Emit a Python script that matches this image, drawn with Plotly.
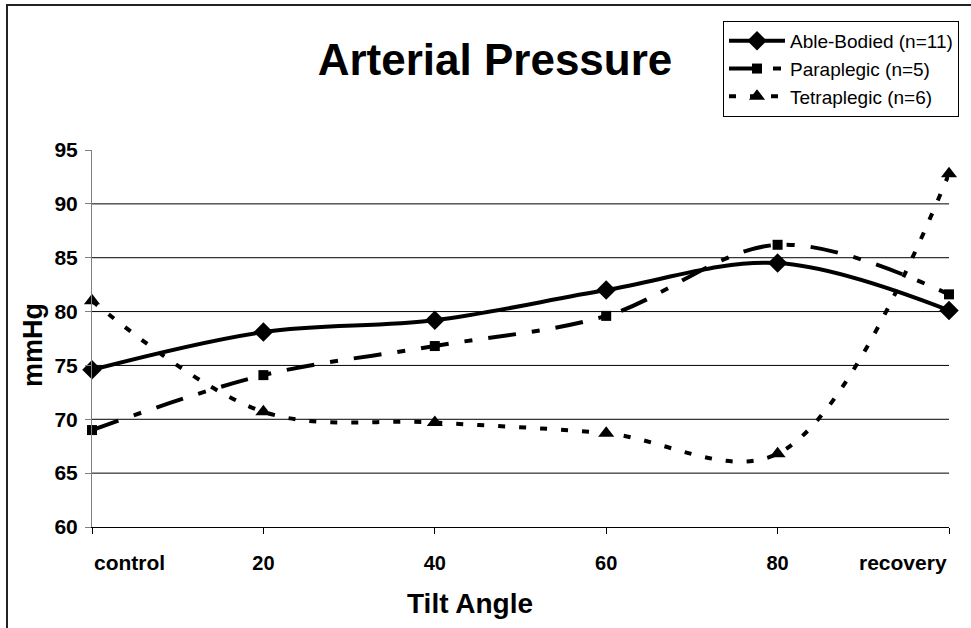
import plotly.graph_objects as go

# Tilt positions and mean arterial pressure (mmHg) for each group
categories = ["control", "20", "40", "60", "80", "recovery"]
able_bodied = [74.6, 78.1, 79.2, 82.0, 84.5, 80.1]
paraplegic = [69.0, 74.1, 76.8, 79.6, 86.2, 81.6]
tetraplegic = [81.0, 70.7, 69.7, 68.7, 66.8, 92.8]

series_names = ["Able-Bodied (n=11)", "Paraplegic (n=5)", "Tetraplegic (n=6)"]
y_ticks = [60, 65, 70, 75, 80, 85, 90, 95]
grid_levels = [65, 70, 75, 80, 85, 90]

FONT = "Liberation Sans, Arial, sans-serif"
W, H = 971, 628
ML, MR, MT, MB = 92, 22, 150, 101
PW, PH = W - ML - MR, H - MT - MB


def px_x(px):
    return (px - ML) / PW


def px_y(py):
    return (H - MB - py) / PH


fig = go.Figure()

fig.add_trace(go.Scatter(
    x=categories, y=able_bodied, name=series_names[0], mode="lines+markers",
    line=dict(color="black", width=4, shape="spline", smoothing=1),
    marker=dict(symbol="diamond", size=15, color="black"),
    cliponaxis=False,
))
fig.add_trace(go.Scatter(
    x=categories, y=paraplegic, name=series_names[1], mode="lines+markers",
    line=dict(color="black", width=4, shape="spline", smoothing=1,
              dash="28px,16px,8px,16px"),
    marker=dict(symbol="square", size=10, color="black"),
    cliponaxis=False,
))
fig.add_trace(go.Scatter(
    x=categories, y=tetraplegic, name=series_names[2], mode="lines+markers",
    line=dict(color="black", width=4, shape="spline", smoothing=1,
              dash="7px,14px"),
    marker=dict(symbol="triangle-up", size=14, color="black"),
    cliponaxis=False,
))

# horizontal gridlines
for g in grid_levels:
    fig.add_shape(type="line", xref="paper", yref="y", x0=0, x1=1, y0=g, y1=g,
                  line=dict(color="black", width=1), layer="below")

# outer chart frame
fig.add_shape(type="rect", xref="paper", yref="paper",
              x0=px_x(7), x1=px_x(W + 10), y0=px_y(H + 10), y1=px_y(5),
              line=dict(color="#222222", width=2), fillcolor="rgba(0,0,0,0)")

tick_text = [""] + categories[1:-1] + [""]

fig.update_layout(
    width=W, height=H,
    margin=dict(l=ML, r=MR, t=MT, b=MB, autoexpand=False),
    paper_bgcolor="white", plot_bgcolor="white",
    font=dict(family=FONT, color="black"),
    showlegend=True,
    title=dict(text="<b>Arterial Pressure</b>", font=dict(size=44, family=FONT),
               xref="paper", x=px_x(495), xanchor="center",
               yref="container", y=1 - 60 / H, yanchor="middle"),
    legend=dict(x=px_x(723), y=px_y(21), xanchor="left", yanchor="top",
                bordercolor="black", borderwidth=1, bgcolor="white",
                font=dict(size=19, family=FONT), itemwidth=56,
                tracegroupgap=0),
    xaxis=dict(type="category", range=[0, len(categories) - 1],
               tickmode="array", tickvals=categories,
               ticktext=[f"<b>{t}</b>" if t else "" for t in tick_text],
               showgrid=False, zeroline=False,
               showline=True, linecolor="black", linewidth=1,
               ticks="outside", ticklen=6, tickcolor="black",
               tickfont=dict(size=20, family=FONT),
               ticklabelstandoff=12),
    yaxis=dict(range=[60, 95], tickmode="array", tickvals=y_ticks,
               ticktext=[f"<b>{v}</b>" for v in y_ticks],
               showgrid=False, zeroline=False,
               showline=True, linecolor="#808080", linewidth=1,
               ticks="outside", ticklen=6, tickcolor="#808080",
               tickfont=dict(size=21, family=FONT),
               ticklabelstandoff=3),
)

annotations = [
    dict(text="<b>control</b>", x=categories[0], xref="x", xanchor="left",
         y=0, yref="paper", yanchor="top", yshift=-22, showarrow=False,
         font=dict(size=21, family=FONT)),
    dict(text="<b>recovery</b>", x=categories[-1], xref="x", xanchor="right",
         y=0, yref="paper", yanchor="top", yshift=-22, showarrow=False,
         font=dict(size=21, family=FONT)),
    dict(text="<b>Tilt Angle</b>", x=px_x(470), xref="paper", xanchor="center",
         y=px_y(603), yref="paper", yanchor="middle", showarrow=False,
         font=dict(size=28, family=FONT)),
    dict(text="<b>mmHg</b>", x=px_x(33), xref="paper", xanchor="center",
         y=px_y(345), yref="paper", yanchor="middle", showarrow=False,
         textangle=-90, font=dict(size=27, family=FONT)),
]
fig.update_layout(annotations=annotations)

fig.write_html("out.html")
